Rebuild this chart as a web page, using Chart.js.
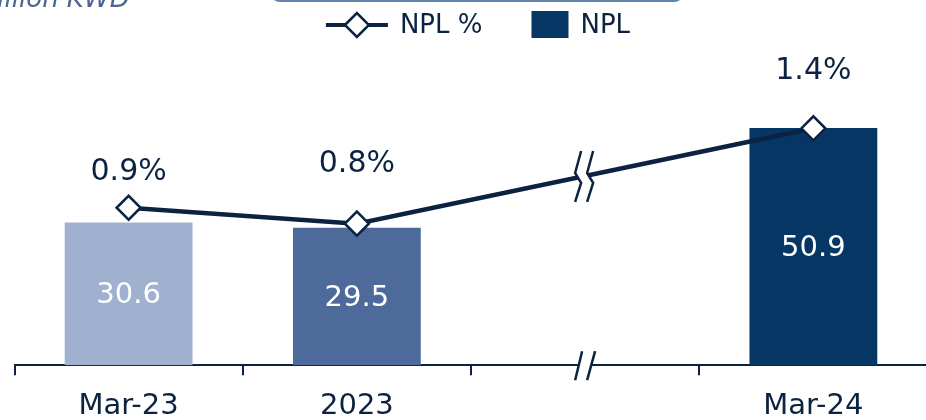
<!DOCTYPE html>
<html>
<head>
<meta charset="utf-8">
<script src="https://cdn.jsdelivr.net/npm/chart.js@4.4.1/dist/chart.umd.min.js"></script>
<style>
  html, body { margin: 0; padding: 0; background: #fff; overflow: hidden; width: 926px; height: 420px; }
  #wrap { position: relative; width: 942px; height: 438px; }
  #unit { position: absolute; left: -28px; top: -16px; font: oblique 26px "DejaVu Sans", sans-serif; line-height: 28px; color: #4a6590; white-space: nowrap; }
  #frame { position: absolute; left: 270px; top: -30px; width: 414px; height: 32px; border: 2px solid #5f83aa; border-radius: 10px; box-sizing: border-box; }
  canvas { display: block; }
</style>
</head>
<body>
<div id="wrap">
  <canvas id="chart" width="942" height="438"></canvas>
  <div id="unit">million KWD</div>
  <div id="frame"></div>
</div>
<script>
// Periods on the x axis; the empty slot is where the axis is broken
const categories = ['Mar-23', '2023', '', 'Mar-24'];
// Non-performing loans, million KWD
const nplValues = [30.6, 29.5, null, 50.9];
// NPL ratio, %
const nplRatio = [0.9, 0.8, null, 1.4];

const NAVY = '#0b2341';
const FONT = '"DejaVu Sans", sans-serif';

// Value labels: white inside bars, dark above line points
const valueLabels = {
  id: 'valueLabels',
  afterDatasetsDraw(chart, args, opts) {
    const ctx = chart.ctx;
    ctx.save();
    ctx.textAlign = 'center';
    ctx.textBaseline = 'middle';
    ctx.font = '29px ' + FONT;
    const bars = chart.getDatasetMeta(1).data;
    bars.forEach((el, i) => {
      const v = nplValues[i];
      if (v == null) return;
      const { x, y, base } = el.getProps(['x', 'y', 'base'], true);
      ctx.fillStyle = '#ffffff';
      ctx.fillText(v.toFixed(1), x, (y + base) / 2 + 2);
    });
    ctx.font = '30px ' + FONT;
    const pts = chart.getDatasetMeta(0).data;
    pts.forEach((el, i) => {
      const v = nplRatio[i];
      if (v == null) return;
      const { x, y } = el.getProps(['x', 'y'], true);
      ctx.fillStyle = NAVY;
      ctx.fillText(v.toFixed(1) + '%', x, y - opts.lift[i]);
    });
    ctx.restore();
  }
};

// Break marks on the line and on the x axis at the empty slot
const breakMarks = {
  id: 'breakMarks',
  afterDatasetsDraw(chart) {
    const ctx = chart.ctx;
    const xs = chart.scales.x;
    const cx = xs.getPixelForValue(2);
    const yb = chart.chartArea.bottom;
    ctx.save();
    // axis
    ctx.fillStyle = '#ffffff';
    ctx.beginPath();
    ctx.moveTo(cx - 10, yb + 15); ctx.lineTo(cx - 3, yb - 14);
    ctx.lineTo(cx + 10, yb - 14); ctx.lineTo(cx + 2, yb + 15);
    ctx.closePath(); ctx.fill();
    ctx.strokeStyle = NAVY;
    ctx.lineWidth = 2.5;
    ctx.beginPath();
    ctx.moveTo(cx - 10, yb + 15); ctx.lineTo(cx - 3, yb - 14);
    ctx.moveTo(cx + 2, yb + 15); ctx.lineTo(cx + 10, yb - 14);
    ctx.stroke();
    // line
    const pts = chart.getDatasetMeta(0).data;
    const a = pts[1], b = pts[3];
    const ly = a.y + (b.y - a.y) * (cx - a.x) / (b.x - a.x);
    const left = [[-4, -25], [-10, -3], [-4, 7], [-10, 26]];
    const right = left.map(p => [p[0] + 12, p[1]]);
    ctx.fillStyle = '#ffffff';
    ctx.beginPath();
    left.forEach((p, i) => i ? ctx.lineTo(cx + p[0], ly + p[1]) : ctx.moveTo(cx + p[0], ly + p[1]));
    right.slice().reverse().forEach(p => ctx.lineTo(cx + p[0], ly + p[1]));
    ctx.closePath(); ctx.fill();
    ctx.beginPath();
    left.forEach((p, i) => i ? ctx.lineTo(cx + p[0], ly + p[1]) : ctx.moveTo(cx + p[0], ly + p[1]));
    right.forEach((p, i) => i ? ctx.lineTo(cx + p[0], ly + p[1]) : ctx.moveTo(cx + p[0], ly + p[1]));
    ctx.stroke();
    ctx.restore();
  }
};

// Legend: line with diamond for the ratio, filled square for the amount
const topLegend = {
  id: 'topLegend',
  afterDraw(chart) {
    const ctx = chart.ctx;
    const ds = chart.data.datasets;
    ctx.save();
    ctx.font = '26px ' + FONT;
    ctx.textBaseline = 'middle';
    const y = 25;
    const w1 = ctx.measureText(ds[0].label).width;
    const w2 = ctx.measureText(ds[1].label).width;
    const total = 62 + 12 + w1 + 49 + 37 + 12 + w2;
    let x = (chart.chartArea.left + chart.chartArea.right) / 2 - total / 2 + 7;
    ctx.strokeStyle = NAVY; ctx.lineWidth = 4;
    ctx.beginPath(); ctx.moveTo(x, y); ctx.lineTo(x + 62, y); ctx.stroke();
    const dx = x + 31, r = 12;
    ctx.fillStyle = '#fff'; ctx.lineWidth = 2.5;
    ctx.beginPath();
    ctx.moveTo(dx - r, y); ctx.lineTo(dx, y - r); ctx.lineTo(dx + r, y); ctx.lineTo(dx, y + r);
    ctx.closePath(); ctx.fill(); ctx.stroke();
    x += 74;
    ctx.fillStyle = NAVY; ctx.fillText(ds[0].label, x, y + 1);
    x += w1 + 49;
    ctx.fillStyle = '#063764'; ctx.fillRect(x, 11, 37, 27);
    x += 49;
    ctx.fillStyle = NAVY; ctx.fillText(ds[1].label, x, y + 1);
    ctx.restore();
  }
};

new Chart(document.getElementById('chart'), {
  type: 'bar',
  data: {
    labels: categories,
    datasets: [
      {
        type: 'line',
        label: 'NPL %',
        data: nplRatio,
        yAxisID: 'y2',
        order: 0,
        spanGaps: true,
        borderColor: NAVY,
        borderWidth: 4.5,
        pointStyle: 'rectRot',
        pointRadius: 12,
        pointBorderWidth: 2.5,
        pointBackgroundColor: '#ffffff',
        pointBorderColor: NAVY,
        tension: 0
      },
      {
        label: 'NPL',
        data: nplValues,
        yAxisID: 'y',
        order: 1,
        backgroundColor: ['#9fb1cf', '#4d6a9b', '#063764', '#063764'],
        barPercentage: 1,
        categoryPercentage: 0.56
      }
    ]
  },
  options: {
    responsive: false,
    animation: false,
    layout: { padding: { top: 60, left: 14, right: 0, bottom: 0 } },
    plugins: {
      legend: { display: false },
      tooltip: { enabled: false },
      valueLabels: { lift: [36, 59, 0, 57] }
    },
    scales: {
      x: {
        offset: true,
        grid: {
          offset: true,
          drawOnChartArea: false,
          drawTicks: true,
          tickLength: 10,
          color: NAVY,
          lineWidth: 2
        },
        border: { display: true, color: NAVY, width: 2 },
        ticks: {
          color: NAVY,
          font: { family: FONT, size: 29 },
          padding: 14,
          autoSkip: false,
          maxRotation: 0
        }
      },
      y: { display: false, min: 0, max: 65.5 },
      y2: { display: false, min: -0.091, max: 1.83 }
    }
  },
  plugins: [valueLabels, breakMarks, topLegend]
});
</script>
</body>
</html>
